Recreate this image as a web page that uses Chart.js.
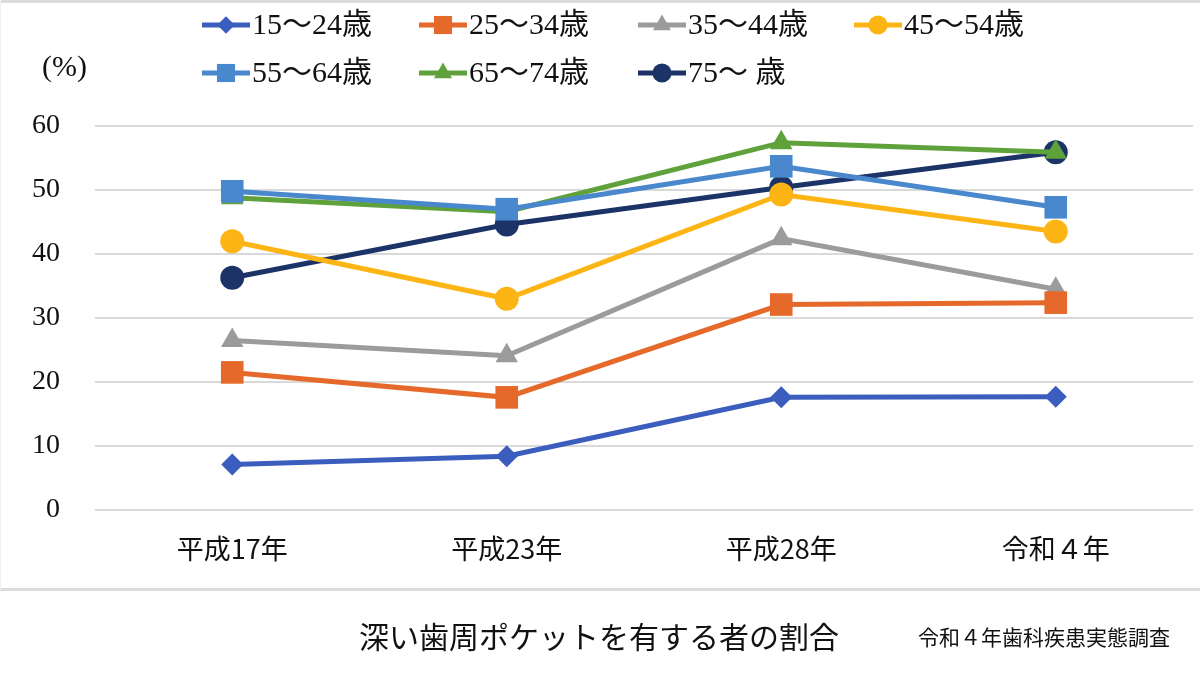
<!DOCTYPE html>
<html>
<head>
<meta charset="utf-8">
<script src="https://cdn.jsdelivr.net/npm/chart.js@4/dist/chart.umd.min.js"></script>
<style>
  body { margin: 0; background: #fff; }
  canvas { display: block; }
</style>
</head>
<body>
<canvas id="line-chart" width="1200" height="674"></canvas>
<script>
var years = ['平成17年', '平成23年', '平成28年', '令和４年'];
var ageLabels = ['15～24歳', '25～34歳', '35～44歳', '45～54歳', '55～64歳', '65～74歳', '75～ 歳'];

var age15 = [7.1, 8.4, 17.6, 17.7];
var age25 = [21.5, 17.6, 32.1, 32.4];
var age35 = [26.5, 24.1, 42.4, 34.5];
var age45 = [42.0, 33.0, 49.3, 43.5];
var age55 = [49.8, 47.0, 53.7, 47.3];
var age65 = [48.8, 46.6, 57.4, 55.9];
var age75 = [36.3, 44.6, 50.4, 55.9];

var yTicks = [0, 10, 20, 30, 40, 50, 60];

var colors = ['#3A5DBE', '#E5692A', '#9B9B9B', '#FDB515', '#4A88CE', '#5FA13A', '#1C3368'];
var shapes = ['rectRot', 'rect', 'triangle', 'circle', 'rect', 'triangle', 'circle'];
var radii = [11, 16, 13, 12, 16, 13, 12];

var seriesValues = [age15, age25, age35, age45, age55, age65, age75];

var datasets = seriesValues.map(function (vals, i) {
  return {
    label: ageLabels[i],
    data: vals,
    borderColor: colors[i],
    backgroundColor: colors[i],
    borderWidth: 5,
    pointStyle: shapes[i],
    pointRadius: radii[i],
    pointHoverRadius: radii[i],
    pointBorderWidth: 0,
    tension: 0
  };
});

function drawShape(ctx, shape, x, y, r) {
  ctx.beginPath();
  if (shape === 'circle') {
    ctx.arc(x, y, r, 0, Math.PI * 2);
  } else if (shape === 'rect') {
    var s = r * Math.SQRT1_2;
    ctx.rect(x - s, y - s, 2 * s, 2 * s);
  } else if (shape === 'rectRot') {
    ctx.moveTo(x, y - r); ctx.lineTo(x + r, y); ctx.lineTo(x, y + r); ctx.lineTo(x - r, y);
    ctx.closePath();
  } else if (shape === 'triangle') {
    ctx.moveTo(x, y - r);
    ctx.lineTo(x + r * Math.sin(Math.PI / 3), y + r * 0.5);
    ctx.lineTo(x - r * Math.sin(Math.PI / 3), y + r * 0.5);
    ctx.closePath();
  }
  ctx.fill();
}

var decorPlugin = {
  id: 'decor',
  beforeDraw: function (chart) {
    var ctx = chart.ctx;
    ctx.save();
    ctx.fillStyle = '#fff';
    ctx.fillRect(0, 0, chart.width, chart.height);
    // frame
    ctx.fillStyle = '#dcdcdc';
    ctx.fillRect(0, 0, 1200, 3);
    ctx.fillRect(0, 588, 1200, 3);
    ctx.fillStyle = '#efefef';
    ctx.fillRect(0, 0, 1, 590);
    ctx.restore();
  },
  afterDraw: function (chart) {
    var ctx = chart.ctx;
    ctx.save();
    // legend
    var colX = [202, 419, 638, 854];
    var rowY = [25, 73];
    ctx.textBaseline = 'middle';
    ctx.textAlign = 'left';
    ctx.font = '30px "Liberation Serif", "Noto Sans CJK JP", serif';
    for (var i = 0; i < ageLabels.length; i++) {
      var x = colX[i % 4], y = rowY[Math.floor(i / 4)];
      ctx.strokeStyle = colors[i];
      ctx.fillStyle = colors[i];
      ctx.lineWidth = 5;
      ctx.beginPath();
      ctx.moveTo(x, y); ctx.lineTo(x + 48, y);
      ctx.stroke();
      drawShape(ctx, shapes[i], x + 24, y, radii[i] * 0.8);
      ctx.fillStyle = '#111';
      ctx.fillText(ageLabels[i], x + 50, y + 1);
    }
    // unit label
    ctx.font = '30px "Liberation Serif", serif';
    ctx.fillText('(%)', 42, 68);
    // footer
    ctx.font = '30px "Noto Sans CJK JP", sans-serif';
    ctx.textAlign = 'center';
    ctx.fillText('深い歯周ポケットを有する者の割合', 599, 637);
    ctx.font = '21px "Noto Sans CJK JP", sans-serif';
    ctx.textAlign = 'left';
    ctx.fillText('令和４年歯科疾患実態調査', 918, 637);
    ctx.restore();
  }
};

var chrt = document.getElementById('line-chart').getContext('2d');
var chartId = new Chart(chrt, {
  type: 'line',
  data: {
    labels: years,
    datasets: datasets
  },
  options: {
    responsive: false,
    animation: false,
    devicePixelRatio: 1,
    layout: {
      autoPadding: false,
      padding: { top: 126, right: 7, bottom: 84, left: 0 }
    },
    plugins: {
      legend: { display: false },
      tooltip: { enabled: false }
    },
    scales: {
      x: {
        offset: true,
        grid: { display: false, drawTicks: false },
        border: { display: false },
        ticks: {
          padding: 23,
          color: '#111',
          font: { family: '"Noto Sans CJK JP", sans-serif', size: 27 }
        },
        afterFit: function (scale) {
          scale.height = 80;
        }
      },
      y: {
        min: 0,
        max: 60,
        afterBuildTicks: function (scale) {
          scale.ticks = yTicks.map(function (v) { return { value: v }; });
        },
        grid: { color: '#d9d9d9', lineWidth: 2, drawTicks: false },
        border: { display: false },
        ticks: {
          padding: 35,
          color: '#111',
          font: { family: '"Liberation Serif", serif', size: 28 }
        },
        afterFit: function (scale) {
          scale.width = 95;
        }
      }
    }
  },
  plugins: [decorPlugin]
});
</script>
</body>
</html>
